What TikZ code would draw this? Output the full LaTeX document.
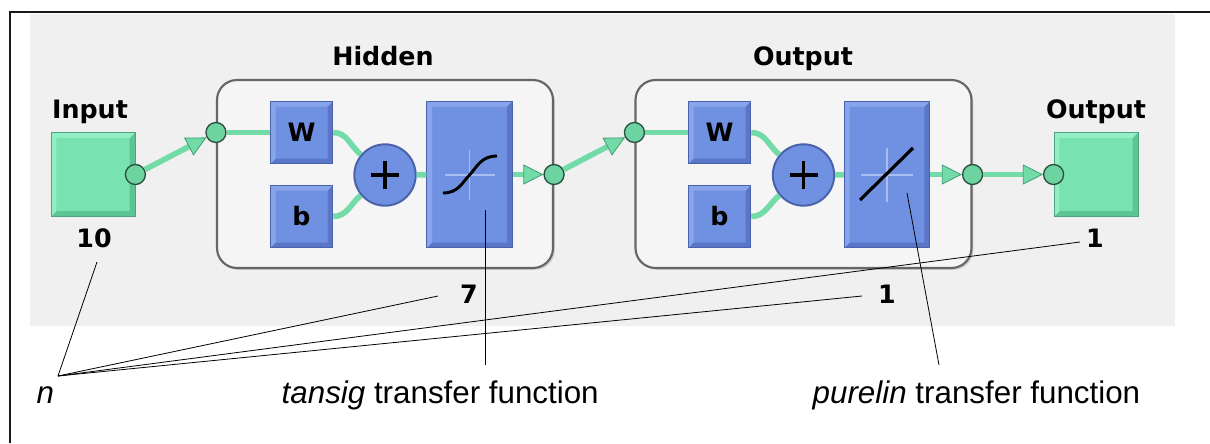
\documentclass[tikz,border=0pt]{standalone}
\usepackage{fontspec}
\setmainfont{Liberation Sans}
\newfontfamily\tagfont{DejaVu Sans}
\usetikzlibrary{arrows.meta,shadows}

\definecolor{panel}{HTML}{F0F0F0}
\definecolor{layerfill}{HTML}{F5F5F5}
\definecolor{layerline}{HTML}{666666}
\definecolor{bluemain}{HTML}{7091E2}
\definecolor{bluedark}{HTML}{4A62AA}
\definecolor{blueshade}{HTML}{5B76C8}
\definecolor{bluelight}{HTML}{88A5EC}
\definecolor{crossline}{HTML}{A8BDF0}
\definecolor{greenmain}{HTML}{79E2B1}
\definecolor{greendark}{HTML}{4FA37C}
\definecolor{greenshade}{HTML}{5CC495}
\definecolor{greenlight}{HTML}{92EEC4}
\definecolor{wiregreen}{HTML}{72DBA7}
\definecolor{wireedge}{HTML}{3F9E73}
\definecolor{portfill}{HTML}{6DD3A0}
\definecolor{portline}{HTML}{2B4F3E}

\tikzset{
  bevel/.style 2 args = {
    path picture = {
      \fill[#1] (path picture bounding box.south west) -- (path picture bounding box.south east)
        -- (path picture bounding box.north east) -- ([shift = {(-4pt,-4pt)}]path picture bounding box.north east)
        -- ([shift = {(-4pt,4pt)}]path picture bounding box.south east)
        -- ([shift = {(4pt,4pt)}]path picture bounding box.south west) -- cycle;
      \fill[#2] (path picture bounding box.south west) -- (path picture bounding box.north west)
        -- (path picture bounding box.north east) -- ([shift = {(-4pt,-4pt)}]path picture bounding box.north east)
        -- ([shift = {(4pt,-4pt)}]path picture bounding box.north west)
        -- ([shift = {(4pt,4pt)}]path picture bounding box.south west) -- cycle;
    }
  },
  block/.style = {
    draw = bluedark, fill = bluemain, line width = .6pt, inner sep = 0pt,
    bevel = {blueshade}{bluelight},
    font = \tagfont\bfseries\fontsize{19}{21}\selectfont
  },
  wb/.style    = {block, minimum size = 47pt},
  tf/.style    = {block, minimum width = 64pt, minimum height = 110pt},
  io/.style    = {
    draw = greendark, fill = greenmain, line width = .6pt,
    bevel = {greenshade}{greenlight}, minimum size = 63pt
  },
  sum/.style   = {
    circle, draw = bluedark, fill = bluemain, line width = 1.5pt,
    minimum size = 46pt, inner sep = 0pt
  },
  port/.style  = {
    circle, draw = portline, fill = portfill, line width = 1pt,
    minimum size = 15pt, inner sep = 0pt
  },
  layer/.style = {
    draw = layerline, fill = layerfill, line width = 1.6pt,
    rounded corners = 15pt, minimum width = 252pt, minimum height = 141pt,
    drop shadow = {opacity = .3, shadow xshift = 1.4pt, shadow yshift = -1.4pt}
  },
  wire/.style  = {draw = wiregreen, line width = 4.2pt},
  feed/.style  = {
    wire,
    -{Triangle[length = 15pt, width = 15pt, fill = wiregreen, color = wireedge, line width = .6pt]}
  },
  tag/.style   = {font = \tagfont\bfseries\fontsize{19}{21}\selectfont, anchor = base},
  note/.style  = {font = \fontsize{23.5}{26}\selectfont, anchor = base west},
  pointer/.style = {line width = .6pt}
}

\begin{document}
\begin{tikzpicture}[x = .75pt, y = -.75pt]
  \useasboundingbox (0,0) rectangle (1210,443);

  % Frame and grey panel
  \fill[panel] (30,14) rectangle (1175,326);
  \draw[line width = 1.5pt, black!90] (1210,12) -- (10,12) -- (10,443);

  % The two layers
  \node[layer] (hid) at (385,174)   {};
  \node[layer] (out) at (803.5,174) {};
  \node[tag] at (383,65) {Hidden};
  \node[tag] at (803,65) {Output};

  % Input and output boxes
  \node[io] (in)  at (93,174.5)   {};
  \node[io] (res) at (1096,174.5) {};
  \node[tag] at (90,118)   {Input};
  \node[tag] at (1096,118) {Output};

  % Hidden layer blocks
  \node[wb]  (hidW)   at (301.5,132.5) {W};
  \node[wb]  (hidB)   at (301.5,216.5) {b};
  \node[sum] (hidSum) at (385,175)     {};
  \node[tf]  (hidTf)  at (469.5,174.5) {};

  % Output layer blocks
  \node[wb]  (outW)   at (719.5,132.5) {W};
  \node[wb]  (outB)   at (719.5,216.5) {b};
  \node[sum] (outSum) at (803.5,175)   {};
  \node[tf]  (outTf)  at (887,174.5)   {};

  % Ports
  \node[port] (inP)     at (in.east)              {};
  \node[port] (hidIn)   at (hid.west |- hidW)     {};
  \node[port] (hidOutP) at (hid.east |- hidTf)    {};
  \node[port] (outIn)   at (out.west |- outW)     {};
  \node[port] (outOutP) at (out.east |- outTf)    {};
  \node[port] (resP)    at (res.west)             {};

  % Plus signs
  \foreach \s in {hidSum, outSum} {
    \draw[line width = 2.4pt] ([xshift = -10.5pt]\s.center) -- ([xshift = 10.5pt]\s.center);
    \draw[line width = 2.4pt] ([yshift = -10.5pt]\s.center) -- ([yshift = 10.5pt]\s.center);
  }

  % Transfer function symbols
  \draw[crossline, line width = 1.2pt] (445,175) -- (495,175) (469.5,150) -- (469.5,200);
  \draw[line width = 2.2pt] (443,193) .. controls (458,193) and (462,183) .. (469.5,175)
    .. controls (477,167) and (481,156) .. (497,156);
  \draw[crossline, line width = 1.2pt] (861,175) -- (913,175) (887,148) -- (887,202);
  \draw[line width = 2.4pt] (860,200) -- (913,148);

  % Wires
  \draw[feed] (inP) -- (hidIn);
  \draw[wire] (hidIn) -- (hidW);
  \draw[wire] (hidW.east) to[out = 0, in = 140] (hidSum.140);
  \draw[wire] (hidB.east) to[out = 0, in = 220] (hidSum.220);
  \draw[wire] (hidSum) -- (hidTf);
  \draw[feed] (hidTf) -- (hidOutP);
  \draw[feed] (hidOutP) -- (outIn);
  \draw[wire] (outIn) -- (outW);
  \draw[wire] (outW.east) to[out = 0, in = 140] (outSum.140);
  \draw[wire] (outB.east) to[out = 0, in = 220] (outSum.220);
  \draw[wire] (outSum) -- (outTf);
  \draw[feed] (outTf) -- (outOutP);
  \draw[feed] (outOutP) -- (resP);

  % Sizes
  \node[tag] (ten)    at (94,247)   {10};
  \node[tag] (seven)  at (469,303)  {7};
  \node[tag] (oneOut) at (887,303)  {1};
  \node[tag] (oneRes) at (1095,247) {1};

  % Notes below
  \node[note] (n)      at (32,403)  {\textit{n}};
  \node[note] (tansig) at (277,403) {\textit{tansig} transfer function};
  \node[note] (purel)  at (808,403) {\textit{purelin} transfer function};

  % Pointer lines
  \coordinate (fan)        at (58,376);
  \coordinate (tenEnd)     at (97,262);
  \coordinate (sevenEnd)   at (438,296);
  \coordinate (oneOutEnd)  at (862,296);
  \coordinate (oneResEnd)  at (1080,242);
  \coordinate (tansigTop)  at (485,210);
  \coordinate (tansigFoot) at (485,365);
  \coordinate (purelTop)   at (907,193);
  \coordinate (purelFoot)  at (939,365);
  \foreach \e in {tenEnd, sevenEnd, oneOutEnd, oneResEnd}
    \draw[pointer] (fan) -- (\e);
  \draw[pointer] (tansigTop) -- (tansigFoot);
  \draw[pointer] (purelTop) -- (purelFoot);
\end{tikzpicture}
\end{document}
